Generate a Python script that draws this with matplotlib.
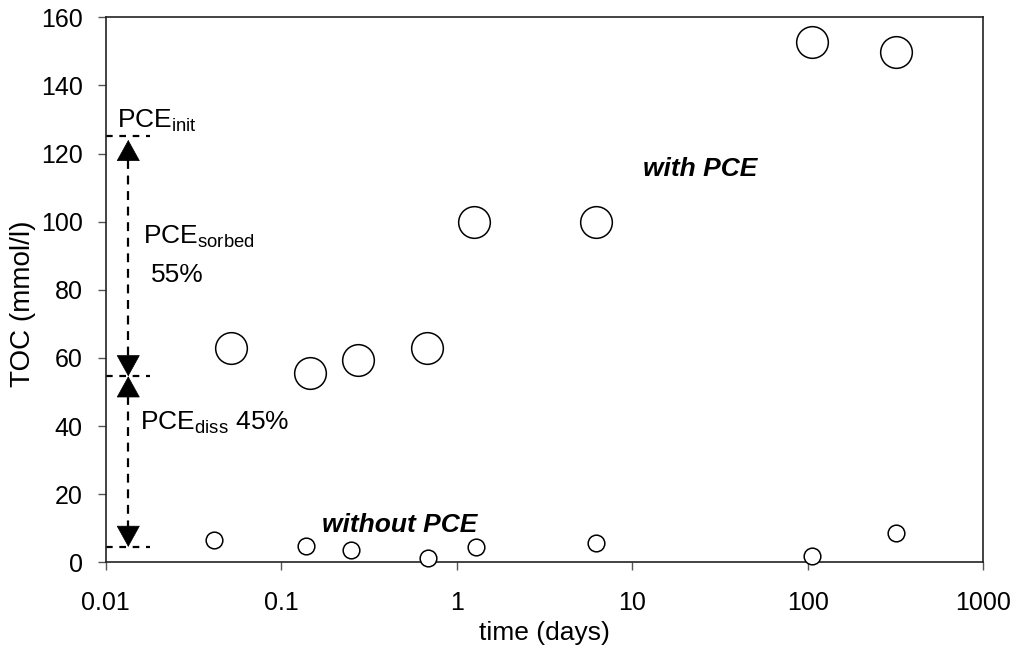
import matplotlib
matplotlib.use("Agg")
import matplotlib.pyplot as plt

plt.rcParams['font.family'] = ['Liberation Sans', 'DejaVu Sans']
plt.rcParams['mathtext.fontset'] = 'custom'
plt.rcParams['mathtext.rm'] = 'Liberation Sans'
plt.rcParams['mathtext.it'] = 'Liberation Sans:italic'
plt.rcParams['mathtext.bf'] = 'Liberation Sans:bold'

# Data
time_with = [0.052, 0.145, 0.275, 0.68, 1.25, 6.2, 105, 318]
toc_with = [63.0, 55.6, 59.3, 63.0, 99.8, 99.8, 152.8, 149.8]
time_without = [0.0414, 0.138, 0.25, 0.687, 1.29, 6.2, 105, 318]
toc_without = [6.5, 4.7, 3.5, 1.2, 4.5, 5.6, 1.85, 8.7]

xticks = [0.01, 0.1, 1, 10, 100, 1000]
xticklabels = ['0.01', '0.1', '1', '10', '100', '1000']
yticks = [0, 20, 40, 60, 80, 100, 120, 140, 160]

pce_init = 125.2
pce_split = 54.6
pce_base = 4.5

fig = plt.figure(figsize=(10.16, 6.53), dpi=100)
ax = fig.add_axes([0.104, 0.139, 0.864, 0.8345])

ax.plot(time_with, toc_with, linestyle='none', marker='o', markersize=22.8,
        markerfacecolor='white', markeredgecolor='black', markeredgewidth=1.1,
        clip_on=False, zorder=3)
ax.plot(time_without, toc_without, linestyle='none', marker='o', markersize=12,
        markerfacecolor='white', markeredgecolor='black', markeredgewidth=1.1,
        clip_on=False, zorder=3)

ax.set_xscale('log')
ax.set_xlim(0.01, 1000)
ax.set_ylim(0, 160)
ax.set_xticks(xticks)
ax.set_xticklabels(xticklabels)
ax.minorticks_off()
ax.set_yticks(yticks)

for s in ax.spines.values():
    s.set_color('#222222')
    s.set_linewidth(1.2)
ax.tick_params(axis='both', direction='out', length=6, width=1.0, color='#555555',
               labelsize=18, labelcolor='black')
ax.tick_params(axis='x', pad=15)
ax.tick_params(axis='y', pad=10.5)
ax.tick_params(top=False, right=False)

ax.set_xlabel('time (days)', fontsize=19, labelpad=4)
ax.set_ylabel('TOC (mmol/l)', fontsize=20)
ax.yaxis.set_label_coords(-0.079, 0.475)

# Annotation: dashed reference lines
xa = 0.01345
x_end = 0.0179
for yv in [pce_init, pce_split, pce_base]:
    ax.plot([0.0101, x_end], [yv, yv], color='black', lw=1.6,
            linestyle=(0, (3.0, 3.0)), zorder=2)

ax.plot([xa, xa], [118, 60.5], color='black', lw=1.6, linestyle=(0, (4, 3)), zorder=2)
ax.plot([xa, xa], [48.7, 10.4], color='black', lw=1.6, linestyle=(0, (4, 3)), zorder=2)

head = dict(arrowstyle='-|>,head_length=0.96,head_width=0.53', mutation_scale=15,
            color='black', lw=0.5, shrinkA=0, shrinkB=0)
for tip, base in [(124.0, 118.0), (54.6, 60.5), (54.6, 48.7), (4.5, 10.4)]:
    ax.annotate('', xy=(xa, tip), xytext=(xa, base), arrowprops=head, zorder=4)

ax.text(0.01155, 127.6, r'PCE$_{\mathrm{init}}$', fontsize=19, va='baseline', ha='left')
ax.text(0.01637, 93.4, r'PCE$_{\mathrm{sorbed}}$', fontsize=19, va='baseline', ha='left')
ax.text(0.01805, 82.3, '55%', fontsize=19, va='baseline', ha='left')
ax.text(0.01568, 39.0, r'PCE$_{\mathrm{diss}}$ 45%', fontsize=19, va='baseline', ha='left')

ax.text(11.48, 113.4, 'with PCE', fontsize=19, fontweight='bold', fontstyle='italic',
        va='baseline', ha='left')
ax.text(0.1701, 8.9, 'without PCE', fontsize=19, fontweight='bold', fontstyle='italic',
        va='baseline', ha='left')

fig.savefig('out.png', dpi=100)
